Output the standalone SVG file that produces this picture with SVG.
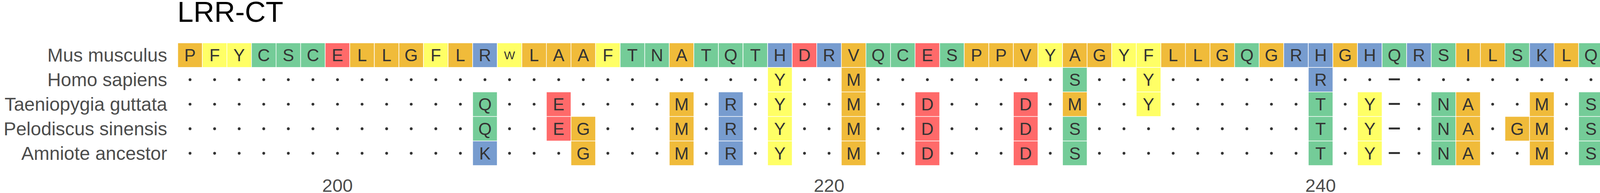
<svg xmlns="http://www.w3.org/2000/svg" xmlns:xlink="http://www.w3.org/1999/xlink" width="4483" height="495" viewBox="0 0 4483 495">
<style>
text{font-family:"Liberation Sans",Arial,Helvetica,sans-serif}
.title{font-size:74px;fill:#000}
.lab{font-size:48px;fill:#4D4D4D;text-anchor:end}
.tick{font-size:47px;fill:#4D4D4D;text-anchor:middle}
.aa{font-size:44px;fill:#333333;text-anchor:middle}
.sm{font-size:30px}
.gap{font-size:50px;font-weight:bold;fill:#333333}
rect{stroke:#FFFFFF;stroke-width:1.5}
.o{fill:#F0BB3A}.y{fill:#FFFF66}.g{fill:#74CC98}.r{fill:#FF6A6A}.b{fill:#779CCF}
.dots circle{fill:#333333}
</style>
<rect width="4483" height="495" fill="#FFFFFF" stroke="none"/>
<g id="title"><text class="title" x="454" y="56">LRR-CT</text></g>
<g id="labels">
<text class="lab" x="428" y="158">Mus musculus</text>
<text class="lab" x="428" y="220.9">Homo sapiens</text>
<text class="lab" x="428" y="283.8">Taeniopygia guttata</text>
<text class="lab" x="428" y="346.7">Pelodiscus sinensis</text>
<text class="lab" x="428" y="409.6">Amniote ancestor</text>
</g>
<g id="axis">
<text class="tick" x="864.0" y="492">200</text>
<text class="tick" x="2122.4" y="492">220</text>
<text class="tick" x="3380.8" y="492">240</text>
</g>
<g id="row-mus-musculus" transform="translate(0,110)">
<rect class="o" x="455.0" y="0" width="62.92" height="62.9"/>
<rect class="y" x="517.9" y="0" width="62.92" height="62.9"/>
<rect class="y" x="580.8" y="0" width="62.92" height="62.9"/>
<rect class="g" x="643.8" y="0" width="62.92" height="62.9"/>
<rect class="g" x="706.7" y="0" width="62.92" height="62.9"/>
<rect class="g" x="769.6" y="0" width="62.92" height="62.9"/>
<rect class="r" x="832.5" y="0" width="62.92" height="62.9"/>
<rect class="o" x="895.4" y="0" width="62.92" height="62.9"/>
<rect class="o" x="958.4" y="0" width="62.92" height="62.9"/>
<rect class="o" x="1021.3" y="0" width="62.92" height="62.9"/>
<rect class="y" x="1084.2" y="0" width="62.92" height="62.9"/>
<rect class="o" x="1147.1" y="0" width="62.92" height="62.9"/>
<rect class="b" x="1210.0" y="0" width="62.92" height="62.9"/>
<rect class="y" x="1273.0" y="0" width="62.92" height="62.9"/>
<rect class="o" x="1335.9" y="0" width="62.92" height="62.9"/>
<rect class="o" x="1398.8" y="0" width="62.92" height="62.9"/>
<rect class="o" x="1461.7" y="0" width="62.92" height="62.9"/>
<rect class="y" x="1524.6" y="0" width="62.92" height="62.9"/>
<rect class="g" x="1587.6" y="0" width="62.92" height="62.9"/>
<rect class="g" x="1650.5" y="0" width="62.92" height="62.9"/>
<rect class="o" x="1713.4" y="0" width="62.92" height="62.9"/>
<rect class="g" x="1776.3" y="0" width="62.92" height="62.9"/>
<rect class="g" x="1839.2" y="0" width="62.92" height="62.9"/>
<rect class="g" x="1902.2" y="0" width="62.92" height="62.9"/>
<rect class="b" x="1965.1" y="0" width="62.92" height="62.9"/>
<rect class="r" x="2028.0" y="0" width="62.92" height="62.9"/>
<rect class="b" x="2090.9" y="0" width="62.92" height="62.9"/>
<rect class="o" x="2153.8" y="0" width="62.92" height="62.9"/>
<rect class="g" x="2216.8" y="0" width="62.92" height="62.9"/>
<rect class="g" x="2279.7" y="0" width="62.92" height="62.9"/>
<rect class="r" x="2342.6" y="0" width="62.92" height="62.9"/>
<rect class="g" x="2405.5" y="0" width="62.92" height="62.9"/>
<rect class="o" x="2468.4" y="0" width="62.92" height="62.9"/>
<rect class="o" x="2531.4" y="0" width="62.92" height="62.9"/>
<rect class="o" x="2594.3" y="0" width="62.92" height="62.9"/>
<rect class="y" x="2657.2" y="0" width="62.92" height="62.9"/>
<rect class="o" x="2720.1" y="0" width="62.92" height="62.9"/>
<rect class="o" x="2783.0" y="0" width="62.92" height="62.9"/>
<rect class="y" x="2846.0" y="0" width="62.92" height="62.9"/>
<rect class="y" x="2908.9" y="0" width="62.92" height="62.9"/>
<rect class="o" x="2971.8" y="0" width="62.92" height="62.9"/>
<rect class="o" x="3034.7" y="0" width="62.92" height="62.9"/>
<rect class="o" x="3097.6" y="0" width="62.92" height="62.9"/>
<rect class="g" x="3160.6" y="0" width="62.92" height="62.9"/>
<rect class="o" x="3223.5" y="0" width="62.92" height="62.9"/>
<rect class="b" x="3286.4" y="0" width="62.92" height="62.9"/>
<rect class="b" x="3349.3" y="0" width="62.92" height="62.9"/>
<rect class="o" x="3412.2" y="0" width="62.92" height="62.9"/>
<rect class="b" x="3475.2" y="0" width="62.92" height="62.9"/>
<rect class="g" x="3538.1" y="0" width="62.92" height="62.9"/>
<rect class="b" x="3601.0" y="0" width="62.92" height="62.9"/>
<rect class="g" x="3663.9" y="0" width="62.92" height="62.9"/>
<rect class="o" x="3726.8" y="0" width="62.92" height="62.9"/>
<rect class="o" x="3789.8" y="0" width="62.92" height="62.9"/>
<rect class="g" x="3852.7" y="0" width="62.92" height="62.9"/>
<rect class="b" x="3915.6" y="0" width="62.92" height="62.9"/>
<rect class="o" x="3978.5" y="0" width="62.92" height="62.9"/>
<rect class="g" x="4041.4" y="0" width="62.92" height="62.9"/>
<rect class="g" x="4104.4" y="0" width="62.92" height="62.9"/>
<rect class="o" x="4167.3" y="0" width="62.92" height="62.9"/>
<rect class="g" x="4230.2" y="0" width="62.92" height="62.9"/>
<rect class="g" x="4293.1" y="0" width="62.92" height="62.9"/>
<rect class="r" x="4356.0" y="0" width="62.92" height="62.9"/>
<rect class="o" x="4419.0" y="0" width="62.92" height="62.9"/>
<text class="aa" x="486.5" y="47.2">P</text>
<text class="aa" x="549.4" y="47.2">F</text>
<text class="aa" x="612.3" y="47.2">Y</text>
<text class="aa" x="675.2" y="47.2">C</text>
<text class="aa" x="738.1" y="47.2">S</text>
<text class="aa" x="801.1" y="47.2">C</text>
<text class="aa" x="864.0" y="47.2">E</text>
<text class="aa" x="926.9" y="47.2">L</text>
<text class="aa" x="989.8" y="47.2">L</text>
<text class="aa" x="1052.7" y="47.2">G</text>
<text class="aa" x="1115.7" y="47.2">F</text>
<text class="aa" x="1178.6" y="47.2">L</text>
<text class="aa" x="1241.5" y="47.2">R</text>
<text class="aa sm" x="1304.4" y="42.3">W</text>
<text class="aa" x="1367.3" y="47.2">L</text>
<text class="aa" x="1430.3" y="47.2">A</text>
<text class="aa" x="1493.2" y="47.2">A</text>
<text class="aa" x="1556.1" y="47.2">F</text>
<text class="aa" x="1619.0" y="47.2">T</text>
<text class="aa" x="1681.9" y="47.2">N</text>
<text class="aa" x="1744.9" y="47.2">A</text>
<text class="aa" x="1807.8" y="47.2">T</text>
<text class="aa" x="1870.7" y="47.2">Q</text>
<text class="aa" x="1933.6" y="47.2">T</text>
<text class="aa" x="1996.5" y="47.2">H</text>
<text class="aa" x="2059.5" y="47.2">D</text>
<text class="aa" x="2122.4" y="47.2">R</text>
<text class="aa" x="2185.3" y="47.2">V</text>
<text class="aa" x="2248.2" y="47.2">Q</text>
<text class="aa" x="2311.1" y="47.2">C</text>
<text class="aa" x="2374.1" y="47.2">E</text>
<text class="aa" x="2437.0" y="47.2">S</text>
<text class="aa" x="2499.9" y="47.2">P</text>
<text class="aa" x="2562.8" y="47.2">P</text>
<text class="aa" x="2625.7" y="47.2">V</text>
<text class="aa" x="2688.7" y="47.2">Y</text>
<text class="aa" x="2751.6" y="47.2">A</text>
<text class="aa" x="2814.5" y="47.2">G</text>
<text class="aa" x="2877.4" y="47.2">Y</text>
<text class="aa" x="2940.3" y="47.2">F</text>
<text class="aa" x="3003.3" y="47.2">L</text>
<text class="aa" x="3066.2" y="47.2">L</text>
<text class="aa" x="3129.1" y="47.2">G</text>
<text class="aa" x="3192.0" y="47.2">Q</text>
<text class="aa" x="3254.9" y="47.2">G</text>
<text class="aa" x="3317.9" y="47.2">R</text>
<text class="aa" x="3380.8" y="47.2">H</text>
<text class="aa" x="3443.7" y="47.2">G</text>
<text class="aa" x="3506.6" y="47.2">H</text>
<text class="aa" x="3569.5" y="47.2">Q</text>
<text class="aa" x="3632.5" y="47.2">R</text>
<text class="aa" x="3695.4" y="47.2">S</text>
<text class="aa" x="3758.3" y="47.2">I</text>
<text class="aa" x="3821.2" y="47.2">L</text>
<text class="aa" x="3884.1" y="47.2">S</text>
<text class="aa" x="3947.1" y="47.2">K</text>
<text class="aa" x="4010.0" y="47.2">L</text>
<text class="aa" x="4072.9" y="47.2">Q</text>
<text class="aa" x="4135.8" y="47.2">S</text>
<text class="aa" x="4198.7" y="47.2">V</text>
<text class="aa" x="4261.7" y="47.2">C</text>
<text class="aa" x="4324.6" y="47.2">T</text>
<text class="aa" x="4387.5" y="47.2">E</text>
<text class="aa" x="4450.4" y="47.2">G</text>
</g>
<g id="row-homo-sapiens" transform="translate(0,172.9)">
<rect class="y" x="1965.1" y="0" width="62.92" height="62.9"/>
<rect class="o" x="2153.8" y="0" width="62.92" height="62.9"/>
<rect class="g" x="2720.1" y="0" width="62.92" height="62.9"/>
<rect class="y" x="2908.9" y="0" width="62.92" height="62.9"/>
<rect class="b" x="3349.3" y="0" width="62.92" height="62.9"/>
<rect class="r" x="4419.0" y="0" width="62.92" height="62.9"/>
<text class="aa" x="1996.5" y="47.2">Y</text>
<text class="aa" x="2185.3" y="47.2">M</text>
<text class="aa" x="2751.6" y="47.2">S</text>
<text class="aa" x="2940.3" y="47.2">Y</text>
<text class="aa" x="3380.8" y="47.2">R</text>
<text class="aa" x="4450.4" y="47.2">D</text>
<text class="gap" x="3553.5" y="44.2" textLength="32" lengthAdjust="spacingAndGlyphs">–</text>
<g class="dots">
<circle cx="486.5" cy="31.45" r="3.6"/><circle cx="549.4" cy="31.45" r="3.6"/><circle cx="612.3" cy="31.45" r="3.6"/><circle cx="675.2" cy="31.45" r="3.6"/><circle cx="738.1" cy="31.45" r="3.6"/><circle cx="801.1" cy="31.45" r="3.6"/><circle cx="864.0" cy="31.45" r="3.6"/><circle cx="926.9" cy="31.45" r="3.6"/><circle cx="989.8" cy="31.45" r="3.6"/><circle cx="1052.7" cy="31.45" r="3.6"/><circle cx="1115.7" cy="31.45" r="3.6"/><circle cx="1178.6" cy="31.45" r="3.6"/><circle cx="1241.5" cy="31.45" r="3.6"/><circle cx="1304.4" cy="31.45" r="3.6"/><circle cx="1367.3" cy="31.45" r="3.6"/><circle cx="1430.3" cy="31.45" r="3.6"/><circle cx="1493.2" cy="31.45" r="3.6"/><circle cx="1556.1" cy="31.45" r="3.6"/><circle cx="1619.0" cy="31.45" r="3.6"/><circle cx="1681.9" cy="31.45" r="3.6"/><circle cx="1744.9" cy="31.45" r="3.6"/><circle cx="1807.8" cy="31.45" r="3.6"/><circle cx="1870.7" cy="31.45" r="3.6"/><circle cx="1933.6" cy="31.45" r="3.6"/>
<circle cx="2059.5" cy="31.45" r="3.6"/><circle cx="2122.4" cy="31.45" r="3.6"/>
<circle cx="2248.2" cy="31.45" r="3.6"/><circle cx="2311.1" cy="31.45" r="3.6"/><circle cx="2374.1" cy="31.45" r="3.6"/><circle cx="2437.0" cy="31.45" r="3.6"/><circle cx="2499.9" cy="31.45" r="3.6"/><circle cx="2562.8" cy="31.45" r="3.6"/><circle cx="2625.7" cy="31.45" r="3.6"/><circle cx="2688.7" cy="31.45" r="3.6"/>
<circle cx="2814.5" cy="31.45" r="3.6"/><circle cx="2877.4" cy="31.45" r="3.6"/>
<circle cx="3003.3" cy="31.45" r="3.6"/><circle cx="3066.2" cy="31.45" r="3.6"/><circle cx="3129.1" cy="31.45" r="3.6"/><circle cx="3192.0" cy="31.45" r="3.6"/><circle cx="3254.9" cy="31.45" r="3.6"/><circle cx="3317.9" cy="31.45" r="3.6"/>
<circle cx="3443.7" cy="31.45" r="3.6"/><circle cx="3506.6" cy="31.45" r="3.6"/>
<circle cx="3632.5" cy="31.45" r="3.6"/><circle cx="3695.4" cy="31.45" r="3.6"/><circle cx="3758.3" cy="31.45" r="3.6"/><circle cx="3821.2" cy="31.45" r="3.6"/><circle cx="3884.1" cy="31.45" r="3.6"/><circle cx="3947.1" cy="31.45" r="3.6"/><circle cx="4010.0" cy="31.45" r="3.6"/><circle cx="4072.9" cy="31.45" r="3.6"/><circle cx="4135.8" cy="31.45" r="3.6"/><circle cx="4198.7" cy="31.45" r="3.6"/><circle cx="4261.7" cy="31.45" r="3.6"/><circle cx="4324.6" cy="31.45" r="3.6"/><circle cx="4387.5" cy="31.45" r="3.6"/>
</g>
</g>
<g id="row-taeniopygia-guttata" transform="translate(0,235.8)">
<rect class="g" x="1210.0" y="0" width="62.92" height="62.9"/>
<rect class="r" x="1398.8" y="0" width="62.92" height="62.9"/>
<rect class="o" x="1713.4" y="0" width="62.92" height="62.9"/>
<rect class="b" x="1839.2" y="0" width="62.92" height="62.9"/>
<rect class="y" x="1965.1" y="0" width="62.92" height="62.9"/>
<rect class="o" x="2153.8" y="0" width="62.92" height="62.9"/>
<rect class="r" x="2342.6" y="0" width="62.92" height="62.9"/>
<rect class="r" x="2594.3" y="0" width="62.92" height="62.9"/>
<rect class="o" x="2720.1" y="0" width="62.92" height="62.9"/>
<rect class="y" x="2908.9" y="0" width="62.92" height="62.9"/>
<rect class="g" x="3349.3" y="0" width="62.92" height="62.9"/>
<rect class="y" x="3475.2" y="0" width="62.92" height="62.9"/>
<rect class="g" x="3663.9" y="0" width="62.92" height="62.9"/>
<rect class="o" x="3726.8" y="0" width="62.92" height="62.9"/>
<rect class="o" x="3915.6" y="0" width="62.92" height="62.9"/>
<rect class="g" x="4041.4" y="0" width="62.92" height="62.9"/>
<rect class="o" x="4167.3" y="0" width="62.92" height="62.9"/>
<rect class="o" x="4356.0" y="0" width="62.92" height="62.9"/>
<text class="aa" x="1241.5" y="47.2">Q</text>
<text class="aa" x="1430.3" y="47.2">E</text>
<text class="aa" x="1744.9" y="47.2">M</text>
<text class="aa" x="1870.7" y="47.2">R</text>
<text class="aa" x="1996.5" y="47.2">Y</text>
<text class="aa" x="2185.3" y="47.2">M</text>
<text class="aa" x="2374.1" y="47.2">D</text>
<text class="aa" x="2625.7" y="47.2">D</text>
<text class="aa" x="2751.6" y="47.2">M</text>
<text class="aa" x="2940.3" y="47.2">Y</text>
<text class="aa" x="3380.8" y="47.2">T</text>
<text class="aa" x="3506.6" y="47.2">Y</text>
<text class="aa" x="3695.4" y="47.2">N</text>
<text class="aa" x="3758.3" y="47.2">A</text>
<text class="aa" x="3947.1" y="47.2">M</text>
<text class="aa" x="4072.9" y="47.2">S</text>
<text class="aa" x="4198.7" y="47.2">L</text>
<text class="aa" x="4387.5" y="47.2">G</text>
<text class="gap" x="3553.5" y="44.2" textLength="32" lengthAdjust="spacingAndGlyphs">–</text>
<g class="dots">
<circle cx="486.5" cy="31.45" r="3.6"/><circle cx="549.4" cy="31.45" r="3.6"/><circle cx="612.3" cy="31.45" r="3.6"/><circle cx="675.2" cy="31.45" r="3.6"/><circle cx="738.1" cy="31.45" r="3.6"/><circle cx="801.1" cy="31.45" r="3.6"/><circle cx="864.0" cy="31.45" r="3.6"/><circle cx="926.9" cy="31.45" r="3.6"/><circle cx="989.8" cy="31.45" r="3.6"/><circle cx="1052.7" cy="31.45" r="3.6"/><circle cx="1115.7" cy="31.45" r="3.6"/><circle cx="1178.6" cy="31.45" r="3.6"/>
<circle cx="1304.4" cy="31.45" r="3.6"/><circle cx="1367.3" cy="31.45" r="3.6"/>
<circle cx="1493.2" cy="31.45" r="3.6"/><circle cx="1556.1" cy="31.45" r="3.6"/><circle cx="1619.0" cy="31.45" r="3.6"/><circle cx="1681.9" cy="31.45" r="3.6"/>
<circle cx="1807.8" cy="31.45" r="3.6"/><circle cx="1933.6" cy="31.45" r="3.6"/>
<circle cx="2059.5" cy="31.45" r="3.6"/><circle cx="2122.4" cy="31.45" r="3.6"/>
<circle cx="2248.2" cy="31.45" r="3.6"/><circle cx="2311.1" cy="31.45" r="3.6"/>
<circle cx="2437.0" cy="31.45" r="3.6"/><circle cx="2499.9" cy="31.45" r="3.6"/><circle cx="2562.8" cy="31.45" r="3.6"/>
<circle cx="2688.7" cy="31.45" r="3.6"/>
<circle cx="2814.5" cy="31.45" r="3.6"/><circle cx="2877.4" cy="31.45" r="3.6"/>
<circle cx="3003.3" cy="31.45" r="3.6"/><circle cx="3066.2" cy="31.45" r="3.6"/><circle cx="3129.1" cy="31.45" r="3.6"/><circle cx="3192.0" cy="31.45" r="3.6"/><circle cx="3254.9" cy="31.45" r="3.6"/><circle cx="3317.9" cy="31.45" r="3.6"/>
<circle cx="3443.7" cy="31.45" r="3.6"/>
<circle cx="3632.5" cy="31.45" r="3.6"/>
<circle cx="3821.2" cy="31.45" r="3.6"/><circle cx="3884.1" cy="31.45" r="3.6"/>
<circle cx="4010.0" cy="31.45" r="3.6"/>
<circle cx="4135.8" cy="31.45" r="3.6"/>
<circle cx="4261.7" cy="31.45" r="3.6"/><circle cx="4324.6" cy="31.45" r="3.6"/>
<circle cx="4450.4" cy="31.45" r="3.6"/>
</g>
</g>
<g id="row-pelodiscus-sinensis" transform="translate(0,298.7)">
<rect class="g" x="1210.0" y="0" width="62.92" height="62.9"/>
<rect class="r" x="1398.8" y="0" width="62.92" height="62.9"/>
<rect class="o" x="1461.7" y="0" width="62.92" height="62.9"/>
<rect class="o" x="1713.4" y="0" width="62.92" height="62.9"/>
<rect class="b" x="1839.2" y="0" width="62.92" height="62.9"/>
<rect class="y" x="1965.1" y="0" width="62.92" height="62.9"/>
<rect class="o" x="2153.8" y="0" width="62.92" height="62.9"/>
<rect class="r" x="2342.6" y="0" width="62.92" height="62.9"/>
<rect class="r" x="2594.3" y="0" width="62.92" height="62.9"/>
<rect class="g" x="2720.1" y="0" width="62.92" height="62.9"/>
<rect class="g" x="3349.3" y="0" width="62.92" height="62.9"/>
<rect class="y" x="3475.2" y="0" width="62.92" height="62.9"/>
<rect class="g" x="3663.9" y="0" width="62.92" height="62.9"/>
<rect class="o" x="3726.8" y="0" width="62.92" height="62.9"/>
<rect class="o" x="3852.7" y="0" width="62.92" height="62.9"/>
<rect class="o" x="3915.6" y="0" width="62.92" height="62.9"/>
<rect class="g" x="4041.4" y="0" width="62.92" height="62.9"/>
<rect class="g" x="4104.4" y="0" width="62.92" height="62.9"/>
<rect class="o" x="4167.3" y="0" width="62.92" height="62.9"/>
<rect class="o" x="4356.0" y="0" width="62.92" height="62.9"/>
<rect class="g" x="4419.0" y="0" width="62.92" height="62.9"/>
<text class="aa" x="1241.5" y="47.2">Q</text>
<text class="aa" x="1430.3" y="47.2">E</text>
<text class="aa" x="1493.2" y="47.2">G</text>
<text class="aa" x="1744.9" y="47.2">M</text>
<text class="aa" x="1870.7" y="47.2">R</text>
<text class="aa" x="1996.5" y="47.2">Y</text>
<text class="aa" x="2185.3" y="47.2">M</text>
<text class="aa" x="2374.1" y="47.2">D</text>
<text class="aa" x="2625.7" y="47.2">D</text>
<text class="aa" x="2751.6" y="47.2">S</text>
<text class="aa" x="3380.8" y="47.2">T</text>
<text class="aa" x="3506.6" y="47.2">Y</text>
<text class="aa" x="3695.4" y="47.2">N</text>
<text class="aa" x="3758.3" y="47.2">A</text>
<text class="aa" x="3884.1" y="47.2">G</text>
<text class="aa" x="3947.1" y="47.2">M</text>
<text class="aa" x="4072.9" y="47.2">S</text>
<text class="aa" x="4135.8" y="47.2">T</text>
<text class="aa" x="4198.7" y="47.2">L</text>
<text class="aa" x="4387.5" y="47.2">G</text>
<text class="aa" x="4450.4" y="47.2">S</text>
<text class="gap" x="3553.5" y="44.2" textLength="32" lengthAdjust="spacingAndGlyphs">–</text>
<g class="dots">
<circle cx="486.5" cy="31.45" r="3.6"/><circle cx="549.4" cy="31.45" r="3.6"/><circle cx="612.3" cy="31.45" r="3.6"/><circle cx="675.2" cy="31.45" r="3.6"/><circle cx="738.1" cy="31.45" r="3.6"/><circle cx="801.1" cy="31.45" r="3.6"/><circle cx="864.0" cy="31.45" r="3.6"/><circle cx="926.9" cy="31.45" r="3.6"/><circle cx="989.8" cy="31.45" r="3.6"/><circle cx="1052.7" cy="31.45" r="3.6"/><circle cx="1115.7" cy="31.45" r="3.6"/><circle cx="1178.6" cy="31.45" r="3.6"/>
<circle cx="1304.4" cy="31.45" r="3.6"/><circle cx="1367.3" cy="31.45" r="3.6"/>
<circle cx="1556.1" cy="31.45" r="3.6"/><circle cx="1619.0" cy="31.45" r="3.6"/><circle cx="1681.9" cy="31.45" r="3.6"/>
<circle cx="1807.8" cy="31.45" r="3.6"/><circle cx="1933.6" cy="31.45" r="3.6"/>
<circle cx="2059.5" cy="31.45" r="3.6"/><circle cx="2122.4" cy="31.45" r="3.6"/>
<circle cx="2248.2" cy="31.45" r="3.6"/><circle cx="2311.1" cy="31.45" r="3.6"/>
<circle cx="2437.0" cy="31.45" r="3.6"/><circle cx="2499.9" cy="31.45" r="3.6"/><circle cx="2562.8" cy="31.45" r="3.6"/>
<circle cx="2688.7" cy="31.45" r="3.6"/>
<circle cx="2814.5" cy="31.45" r="3.6"/><circle cx="2877.4" cy="31.45" r="3.6"/><circle cx="2940.3" cy="31.45" r="3.6"/><circle cx="3003.3" cy="31.45" r="3.6"/><circle cx="3066.2" cy="31.45" r="3.6"/><circle cx="3129.1" cy="31.45" r="3.6"/><circle cx="3192.0" cy="31.45" r="3.6"/><circle cx="3254.9" cy="31.45" r="3.6"/><circle cx="3317.9" cy="31.45" r="3.6"/>
<circle cx="3443.7" cy="31.45" r="3.6"/>
<circle cx="3632.5" cy="31.45" r="3.6"/>
<circle cx="3821.2" cy="31.45" r="3.6"/>
<circle cx="4010.0" cy="31.45" r="3.6"/>
<circle cx="4261.7" cy="31.45" r="3.6"/><circle cx="4324.6" cy="31.45" r="3.6"/>
</g>
</g>
<g id="row-amniote-ancestor" transform="translate(0,361.6)">
<rect class="b" x="1210.0" y="0" width="62.92" height="62.9"/>
<rect class="o" x="1461.7" y="0" width="62.92" height="62.9"/>
<rect class="o" x="1713.4" y="0" width="62.92" height="62.9"/>
<rect class="b" x="1839.2" y="0" width="62.92" height="62.9"/>
<rect class="y" x="1965.1" y="0" width="62.92" height="62.9"/>
<rect class="o" x="2153.8" y="0" width="62.92" height="62.9"/>
<rect class="r" x="2342.6" y="0" width="62.92" height="62.9"/>
<rect class="r" x="2594.3" y="0" width="62.92" height="62.9"/>
<rect class="g" x="2720.1" y="0" width="62.92" height="62.9"/>
<rect class="g" x="3349.3" y="0" width="62.92" height="62.9"/>
<rect class="y" x="3475.2" y="0" width="62.92" height="62.9"/>
<rect class="g" x="3663.9" y="0" width="62.92" height="62.9"/>
<rect class="o" x="3726.8" y="0" width="62.92" height="62.9"/>
<rect class="o" x="3915.6" y="0" width="62.92" height="62.9"/>
<rect class="g" x="4041.4" y="0" width="62.92" height="62.9"/>
<rect class="o" x="4167.3" y="0" width="62.92" height="62.9"/>
<rect class="r" x="4356.0" y="0" width="62.92" height="62.9"/>
<text class="aa" x="1241.5" y="47.2">K</text>
<text class="aa" x="1493.2" y="47.2">G</text>
<text class="aa" x="1744.9" y="47.2">M</text>
<text class="aa" x="1870.7" y="47.2">R</text>
<text class="aa" x="1996.5" y="47.2">Y</text>
<text class="aa" x="2185.3" y="47.2">M</text>
<text class="aa" x="2374.1" y="47.2">D</text>
<text class="aa" x="2625.7" y="47.2">D</text>
<text class="aa" x="2751.6" y="47.2">S</text>
<text class="aa" x="3380.8" y="47.2">T</text>
<text class="aa" x="3506.6" y="47.2">Y</text>
<text class="aa" x="3695.4" y="47.2">N</text>
<text class="aa" x="3758.3" y="47.2">A</text>
<text class="aa" x="3947.1" y="47.2">M</text>
<text class="aa" x="4072.9" y="47.2">S</text>
<text class="aa" x="4198.7" y="47.2">L</text>
<text class="aa" x="4387.5" y="47.2">D</text>
<text class="gap" x="3553.5" y="44.2" textLength="32" lengthAdjust="spacingAndGlyphs">–</text>
<g class="dots">
<circle cx="486.5" cy="31.45" r="3.6"/><circle cx="549.4" cy="31.45" r="3.6"/><circle cx="612.3" cy="31.45" r="3.6"/><circle cx="675.2" cy="31.45" r="3.6"/><circle cx="738.1" cy="31.45" r="3.6"/><circle cx="801.1" cy="31.45" r="3.6"/><circle cx="864.0" cy="31.45" r="3.6"/><circle cx="926.9" cy="31.45" r="3.6"/><circle cx="989.8" cy="31.45" r="3.6"/><circle cx="1052.7" cy="31.45" r="3.6"/><circle cx="1115.7" cy="31.45" r="3.6"/><circle cx="1178.6" cy="31.45" r="3.6"/>
<circle cx="1304.4" cy="31.45" r="3.6"/><circle cx="1367.3" cy="31.45" r="3.6"/><circle cx="1430.3" cy="31.45" r="3.6"/>
<circle cx="1556.1" cy="31.45" r="3.6"/><circle cx="1619.0" cy="31.45" r="3.6"/><circle cx="1681.9" cy="31.45" r="3.6"/>
<circle cx="1807.8" cy="31.45" r="3.6"/><circle cx="1933.6" cy="31.45" r="3.6"/>
<circle cx="2059.5" cy="31.45" r="3.6"/><circle cx="2122.4" cy="31.45" r="3.6"/>
<circle cx="2248.2" cy="31.45" r="3.6"/><circle cx="2311.1" cy="31.45" r="3.6"/>
<circle cx="2437.0" cy="31.45" r="3.6"/><circle cx="2499.9" cy="31.45" r="3.6"/><circle cx="2562.8" cy="31.45" r="3.6"/>
<circle cx="2688.7" cy="31.45" r="3.6"/>
<circle cx="2814.5" cy="31.45" r="3.6"/><circle cx="2877.4" cy="31.45" r="3.6"/><circle cx="2940.3" cy="31.45" r="3.6"/><circle cx="3003.3" cy="31.45" r="3.6"/><circle cx="3066.2" cy="31.45" r="3.6"/><circle cx="3129.1" cy="31.45" r="3.6"/><circle cx="3192.0" cy="31.45" r="3.6"/><circle cx="3254.9" cy="31.45" r="3.6"/><circle cx="3317.9" cy="31.45" r="3.6"/>
<circle cx="3443.7" cy="31.45" r="3.6"/>
<circle cx="3632.5" cy="31.45" r="3.6"/>
<circle cx="3821.2" cy="31.45" r="3.6"/><circle cx="3884.1" cy="31.45" r="3.6"/>
<circle cx="4010.0" cy="31.45" r="3.6"/>
<circle cx="4135.8" cy="31.45" r="3.6"/>
<circle cx="4261.7" cy="31.45" r="3.6"/><circle cx="4324.6" cy="31.45" r="3.6"/>
<circle cx="4450.4" cy="31.45" r="3.6"/>
</g>
</g>
</svg>
